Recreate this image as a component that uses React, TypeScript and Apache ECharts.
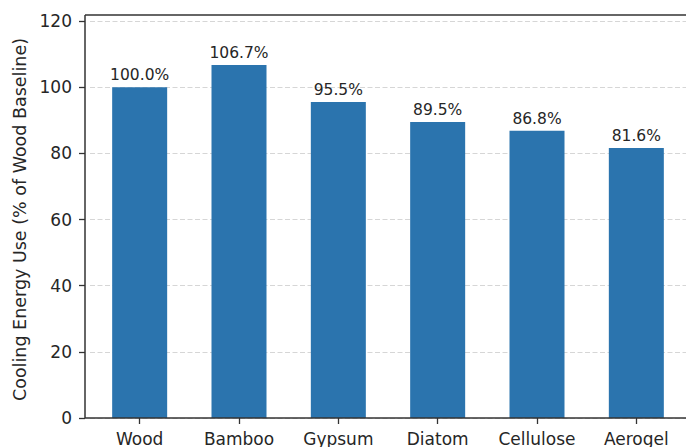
import React, { useEffect, useRef } from "react";
import * as echarts from "echarts";

const categories = ["Wood", "Bamboo", "Gypsum", "Diatom", "Cellulose", "Aerogel"];
const values = [100.0, 106.7, 95.5, 89.5, 86.8, 81.6];
const yTicks = [0, 20, 40, 60, 80, 100, 120];
const yTitle = "Cooling Energy Use (% of Wood Baseline)";

const FONT = "DejaVu Sans";
const TEXT = "#262626";
const SPINE = "#333333";

export default function App() {
  const ref = useRef<HTMLDivElement>(null);
  useEffect(() => {
    if (!ref.current) return;
    const chart = echarts.init(ref.current, null, { renderer: "svg" });
    chart.setOption({
      animation: false,
      backgroundColor: "#ffffff",
      grid: { left: 90, right: -4, top: 21, bottom: 29, containLabel: false },
      xAxis: {
        type: "category",
        data: categories,
        boundaryGap: true,
        axisLine: { show: false },
        axisTick: { show: true, alignWithLabel: true, interval: 0, length: 6, lineStyle: { color: SPINE, width: 1.3 } },
        axisLabel: { color: TEXT, fontFamily: FONT, fontSize: 17, margin: 12, interval: 0 },
        splitLine: { show: false },
      },
      yAxis: {
        type: "value",
        min: yTicks[0],
        max: yTicks[yTicks.length - 1],
        interval: 20,
        offset: 5,
        name: yTitle,
        nameLocation: "middle",
        nameGap: 56,
        nameTextStyle: { color: TEXT, fontFamily: FONT, fontSize: 17.5 },
        axisLine: { show: false },
        axisTick: { show: true, length: 6, lineStyle: { color: SPINE, width: 1.3 } },
        axisLabel: { color: TEXT, fontFamily: FONT, fontSize: 17, margin: 13 },
        splitLine: { show: true, lineStyle: { color: "#d6d6d6", type: [5, 2.5], width: 1 } },
      },
      series: [
        {
          type: "bar",
          data: values,
          barWidth: 55,
          itemStyle: { color: "#2b74ae" },
          label: {
            show: true,
            position: "top",
            distance: 4,
            color: TEXT,
            fontFamily: FONT,
            fontSize: 15.5,
            formatter: (p: any) => Number(p.value).toFixed(1) + "%",
          },
        },
      ],
      graphic: [
        { type: "line", shape: { x1: 85, y1: 15, x2: 85, y2: 418 }, style: { stroke: SPINE, lineWidth: 1.5 }, z: 100 },
        { type: "line", shape: { x1: 85, y1: 418, x2: 686, y2: 418 }, style: { stroke: SPINE, lineWidth: 1.5 }, z: 100 },
        { type: "line", shape: { x1: 85, y1: 15, x2: 686, y2: 15 }, style: { stroke: SPINE, lineWidth: 1.5 }, z: 100 },
      ],
    });
    return () => chart.dispose();
  }, []);
  return <div ref={ref} style={{ width: 686, height: 447, position: "absolute", left: 0, top: 0 }} />;
}
